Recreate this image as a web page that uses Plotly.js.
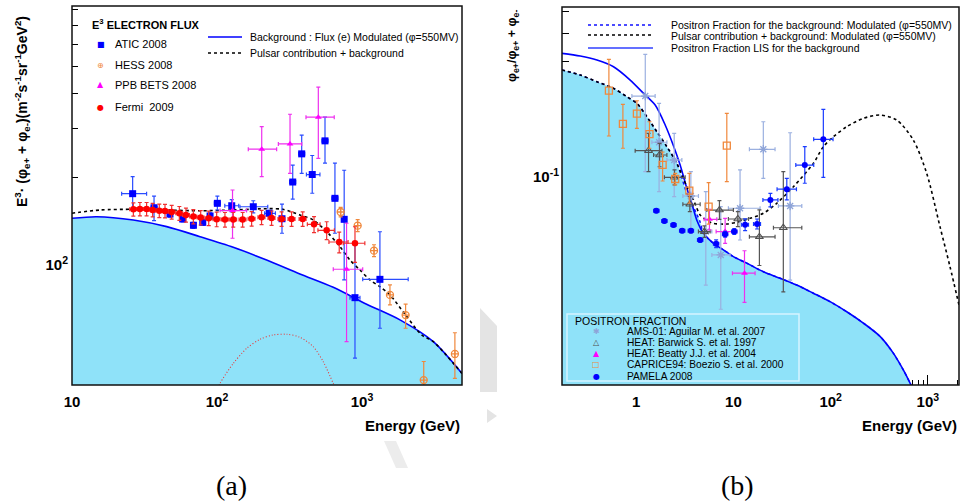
<!DOCTYPE html>
<html>
<head>
<meta charset="utf-8">
<script src="https://cdn.plot.ly/plotly-3.0.1.min.js"></script>
<style>html,body{margin:0;padding:0;background:#fff;}#chart{width:963px;height:502px;}</style>
</head>
<body>
<div id="chart"></div>
<script>
// ---------- Panel (a): E^3 electron flux ----------
const atic_E   = [26.2, 36.8, 47.4, 58.0, 68.8, 79.8, 89.6, 100.6, 126.4, 178, 229, 280.8, 333, 384, 454, 556, 651, 754, 895, 1330];
const atic_F   = [174.6, 155.4, 147.5, 141.6, 134.4, 137.7, 145.2, 161.2, 158, 156.7, 148.4, 141.9, 192.3, 242.8, 204.6, 270.4, 168, 141.2, 73.8, 85.9];
const atic_Elo = [22.0, 35.1, 45.9, 56.2, 66.7, 77.3, 86.8, 95.9, 113.2, 144, 213, 272, 317, 366, 414, 530, 620, 730, 826, 1012];
const atic_Ehi = [32.7, 38.6, 48.9, 59.9, 71.0, 82.4, 92.5, 105.5, 141.2, 224, 253, 289.8, 349, 403, 513, 583, 683, 778, 969, 2084];
const atic_Flo = [152.5, 139.6, 143.9, 138.1, 131.1, 134.3, 141.6, 152.5, 150.3, 149, 144.7, 125.8, 167, 206.4, 175.2, 225, 125.8, 85.5, 44.7, 57.3];
const atic_Fhi = [201, 171.2, 151.2, 145.2, 137.8, 141.2, 148.9, 171, 166.1, 164.7, 152.2, 160.2, 221, 283.5, 239.5, 329, 225, 212, 115.8, 127.4];

const hess_E   = [713, 934, 1211, 1560, 2000, 2667, 4375];
const hess_F   = [150, 134, 108.9, 75.5, 63.9, 37.3, 46.3];
const hess_Flo = [144.2, 127.5, 103.6, 69.5, 57.3, 33.4, 37.8];
const hess_Fhi = [156, 140.9, 114.4, 82, 70, 43.5, 55.2];

const ppb_E   = [128, 203.5, 319, 500, 783];
const ppb_F   = [151.8, 252.5, 263.6, 329, 93.4];
const ppb_Elo = [105, 164.4, 265, 411, 634];
const ppb_Ehi = [160, 258, 384, 644, 1012];
const ppb_Flo = [120.7, 201, 206.6, 234, 51.3];
const ppb_Fhi = [180, 304, 337, 421.6, 136.7];

const fermi_E    = [26.5, 29.4, 32.7, 36.0, 40.0, 43.8, 48.7, 55.0, 61.1, 68.7, 77.2, 87.7, 99.5, 113.5, 129.5, 150.3, 173.4, 203, 238, 279, 327, 390, 467, 571, 697, 895];
const fermi_F    = [153.4, 153.8, 153.8, 152.5, 151.6, 151.3, 150.0, 148.5, 146.4, 144.4, 143.2, 142.5, 141.3, 140.9, 140.9, 140.9, 142.0, 143.6, 142.8, 141.6, 141.6, 141.6, 135.5, 128.9, 117.0, 115.8];
const fermi_Ferr = [8.5, 8.5, 8.5, 8.5, 8.5, 8.5, 8.5, 8.5, 8.5, 8.5, 8.5, 8.5, 8.5, 8.5, 8.5, 8.5, 8.5, 8.5, 8.5, 8.5, 8.5, 8.5, 9, 9.5, 10, 17];
const fermi_Eerr = [1.5, 1.6, 1.8, 2.0, 2.2, 2.4, 2.7, 3.0, 3.4, 3.8, 4.2, 4.8, 5.5, 6.2, 7.1, 8.3, 9.5, 11.2, 13.1, 15.3, 18.0, 21.5, 47, 74, 105, 152];

const bgA_E  = [10, 14.8, 26.5, 45, 76.4, 129.5, 220, 373, 634, 1077, 1828, 3105, 4898];
const bgA_F  = [142.4, 144.3, 140.4, 132.9, 122.3, 112.0, 100.8, 89.8, 80.4, 69.9, 61.4, 51.3, 39.4];
const totA_E = [10, 15.6, 26.5, 45, 76.4, 129.5, 220, 285, 373, 461, 586, 705, 826, 968, 1135, 1330, 1560, 2000, 2582, 3105, 4898];
const totA_F = [148.5, 152.5, 153.4, 152.5, 151.6, 152.5, 154.2, 153.4, 146.4, 140.4, 125.8, 112.6, 100.8, 92.8, 85.5, 80.8, 75.5, 63.9, 54.2, 51.3, 39.4];
const psrA_E = [100, 105, 129.5, 160.3, 198, 244, 303, 373, 461, 541, 634, 690];
const psrA_F = [34, 36.3, 42.8, 48.5, 52.3, 54.2, 54.5, 53.2, 49.2, 43.4, 36.3, 33];

// ---------- Panel (b): positron fraction ----------
const pam_E   = [1.61, 1.95, 2.42, 2.97, 3.65, 4.55, 6.64, 8.22, 10.2, 13.2, 17.5, 24.0, 35.4, 54.2, 84.1];
const pam_V   = [0.0645, 0.0580, 0.0557, 0.0525, 0.0525, 0.0477, 0.0459, 0.0506, 0.0520, 0.0558, 0.0562, 0.0720, 0.0804, 0.1031, 0.1343];
const pam_Elo = [1.51, 1.83, 2.27, 2.79, 3.42, 4.27, 6.23, 7.71, 9.57, 12.15, 16.1, 20.1, 28.1, 43.8, 66.9];
const pam_Ehi = [1.72, 2.08, 2.58, 3.17, 3.89, 4.85, 7.08, 8.76, 10.9, 14.3, 19.0, 28.7, 44.5, 67.0, 105.8];
const pam_Vlo = [0.0632, 0.0568, 0.0546, 0.0514, 0.0514, 0.0467, 0.0441, 0.0491, 0.0505, 0.0525, 0.0534, 0.0671, 0.0720, 0.0855, 0.0909];
const pam_Vhi = [0.0658, 0.0592, 0.0569, 0.0536, 0.0536, 0.0487, 0.0478, 0.0521, 0.0536, 0.0593, 0.0592, 0.0771, 0.0899, 0.1245, 0.1828];

const ams_E   = [1.24, 1.72, 2.46, 3.65, 5.20, 7.41, 11.7, 20.3, 38.3];
const ams_V   = [0.2096, 0.1303, 0.1086, 0.0750, 0.0520, 0.0409, 0.0661, 0.1212, 0.0677];
const ams_Elo = [0.903, 1.45, 2.07, 3.02, 4.37, 6.0, 8.88, 14.6, 29.0];
const ams_Ehi = [1.567, 2.07, 2.95, 4.37, 6.0, 9.25, 18.8, 26.8, 50.5];
const ams_Vlo = [0.0963, 0.0784, 0.0745, 0.0511, 0.0300, 0.0234, 0.0477, 0.0899, 0.0316];
const ams_Vhi = [0.3218, 0.1944, 0.1429, 0.0963, 0.0784, 0.0672, 0.0980, 0.1609, 0.1437];

const heat_E   = [1.34, 1.74, 2.48, 3.56, 5.03, 7.18, 11.1, 18.5, 32.6];
const heat_V   = [0.1195, 0.1143, 0.0909, 0.0689, 0.0520, 0.0649, 0.0592, 0.0493, 0.0541];
const heat_Elo = [0.976, 1.51, 1.95, 3.02, 4.37, 5.33, 8.88, 14.6, 25.8];
const heat_Ehi = [1.84, 2.07, 3.19, 4.55, 5.76, 10.0, 14.3, 26.8, 50.5];
const heat_Vlo = [0.0963, 0.1013, 0.0840, 0.0638, 0.0490, 0.0590, 0.0547, 0.0367, 0.0280];
const heat_Vhi = [0.1429, 0.1289, 0.0980, 0.0745, 0.0552, 0.0715, 0.0638, 0.0650, 0.0963];

const beat_E   = [5.67, 8.22, 13.0];
const beat_V   = [0.0590, 0.0520, 0.0339];
const beat_Elo = [5.0, 6.64, 9.77];
const beat_Ehi = [6.75, 10.8, 16.7];
const beat_Vlo = [0.0529, 0.0461, 0.0251];
const beat_Vhi = [0.0654, 0.0596, 0.0427];

const cap_E   = [0.524, 0.730, 1.017, 1.37, 1.87, 2.52, 3.52, 5.56, 8.55];
const cap_V   = [0.2218, 0.1575, 0.1751, 0.1416, 0.1033, 0.0893, 0.0792, 0.0672, 0.1258];
const cap_Vlo = [0.139, 0.1225, 0.1504, 0.1225, 0.0875, 0.0840, 0.0696, 0.0562, 0.0869];
const cap_Vhi = [0.3058, 0.1925, 0.1997, 0.1609, 0.1179, 0.0947, 0.0947, 0.0860, 0.1754];

const lis_E = [0.1723, 0.2658, 0.3946, 0.5844, 0.8676, 1.189, 1.568, 1.987, 2.40, 2.833, 3.265, 3.72, 4.236, 4.917, 6.232, 7.895, 10.0, 13.73, 20.34, 30.2, 44.8, 66.4, 98.6, 146.4, 216.8, 321.9, 441, 558.8, 670.3, 791];
const lis_V = [0.3251, 0.3162, 0.3034, 0.2833, 0.2471, 0.2156, 0.1910, 0.1556, 0.1267, 0.1031, 0.0831, 0.0698, 0.0580, 0.0511, 0.0461, 0.0431, 0.0402, 0.0376, 0.0344, 0.0322, 0.0300, 0.0276, 0.0253, 0.0228, 0.0203, 0.0177, 0.0149, 0.01254, 0.01074, 0.0092];
const mod_E = [0.1723, 0.2658, 0.3946, 0.5844, 0.8024, 1.017, 1.288, 1.632, 2.068, 2.62, 3.32, 3.88, 4.548, 4.917, 6.232, 7.895, 10.0, 13.73, 20.34, 30.2, 44.8, 66.4, 98.6, 146.4, 216.8, 321.9, 441, 558.8, 670.3, 791];
const mod_V = [0.2739, 0.2602, 0.2428, 0.2269, 0.2080, 0.1944, 0.1694, 0.1452, 0.1245, 0.1049, 0.0771, 0.0669, 0.0574, 0.0511, 0.0461, 0.0431, 0.0402, 0.0376, 0.0344, 0.0322, 0.0300, 0.0276, 0.0253, 0.0228, 0.0203, 0.0177, 0.0149, 0.01254, 0.01074, 0.0092];
const tot_E = [0.1723, 0.2658, 0.3946, 0.5844, 0.8024, 1.017, 1.288, 1.632, 2.068, 2.62, 3.32, 3.88, 4.548, 5.33, 6.232, 8.555, 11.72, 14.85, 20.34, 27.93, 41.4, 66.4, 84.1, 106.6, 146.4, 216.8, 321.9, 477.9, 707.9, 972, 1332, 1687, 2087];
const tot_V = [0.2739, 0.2602, 0.2428, 0.2269, 0.2080, 0.1944, 0.1694, 0.1452, 0.1245, 0.1049, 0.0825, 0.0720, 0.0617, 0.0583, 0.0566, 0.0562, 0.0577, 0.0596, 0.0628, 0.0696, 0.0825, 0.1049, 0.1245, 0.1379, 0.1529, 0.1667, 0.1724, 0.1638, 0.1334, 0.0947, 0.0547, 0.0363, 0.0245];

// ---------- tick labels ----------
const ticksA_x = [10, 100, 1000];
const ticksA_xt = ['<b>10</b>', '<b>10<sup>2</sup></b>', '<b>10<sup>3</sup></b>'];
const ticksA_y = [100];
const ticksA_yt = ['<b>10<sup>2</sup></b>'];
const ticksB_x = [1, 10, 100, 1000];
const ticksB_xt = ['<b>1</b>', '<b>10</b>', '<b>10<sup>2</sup></b>', '<b>10<sup>3</sup></b>'];
const ticksB_y = [0.1];
const ticksB_yt = ['<b>10<sup>-1</sup></b>'];

// ---------- helpers ----------
const FILL = 'rgb(143,226,249)';
const FONT = 'Liberation Sans, Arial, Helvetica, sans-serif';
function asym(v, lo, hi, color) {
  return {type: 'data', symmetric: false,
          array: v.map((d, i) => hi[i] - d), arrayminus: v.map((d, i) => d - lo[i]),
          color: color, thickness: 1.2, width: 2};
}
function pts(x, y, xa, ya, marker, ex, ey) {
  const t = {x: x, y: y, xaxis: xa, yaxis: ya, mode: 'markers', type: 'scatter', marker: marker, hoverinfo: 'skip'};
  if (ex) t.error_x = ex;
  if (ey) t.error_y = ey;
  return t;
}
function line(x, y, xa, ya, color, dash, width, fill) {
  const t = {x: x, y: y, xaxis: xa, yaxis: ya, mode: 'lines', type: 'scatter',
             line: {color: color, dash: dash, width: width, shape: 'spline', smoothing: 0.8}, hoverinfo: 'skip'};
  if (fill) { t.fill = 'tozeroy'; t.fillcolor = fill; }
  return t;
}

const traces = [
  line(bgA_E, bgA_F, 'x', 'y', '#0000ff', 'solid', 1.6, FILL),
  line(psrA_E, psrA_F, 'x', 'y', '#e83a3a', '1px,2px', 1.1),
  line(totA_E, totA_F, 'x', 'y', '#000000', 'dot', 1.6),
  pts(atic_E, atic_F, 'x', 'y', {symbol: 'square', size: 7, color: '#0000ff'},
      asym(atic_E, atic_Elo, atic_Ehi, '#2a4cff'), asym(atic_F, atic_Flo, atic_Fhi, '#2a4cff')),
  pts(hess_E, hess_F, 'x', 'y', {symbol: 'circle-cross-open', size: 7, color: '#f0883c', line: {width: 1.3}},
      null, asym(hess_F, hess_Flo, hess_Fhi, '#f0883c')),
  pts(ppb_E, ppb_F, 'x', 'y', {symbol: 'triangle-up', size: 6, color: '#ff00ff'},
      asym(ppb_E, ppb_Elo, ppb_Ehi, '#ee30ee'), asym(ppb_F, ppb_Flo, ppb_Fhi, '#ee30ee')),
  pts(fermi_E, fermi_F, 'x', 'y', {symbol: 'circle', size: 6.5, color: '#ff0000'},
      {type: 'data', array: fermi_Eerr, color: '#f03030', thickness: 1.2, width: 2},
      {type: 'data', array: fermi_Ferr, color: '#f03030', thickness: 1.2, width: 2}),

  line(mod_E, mod_V, 'x2', 'y2', '#1010ff', 'dot', 1.5, FILL),
  line(lis_E, lis_V, 'x2', 'y2', '#0000ff', 'solid', 1.6),
  line(tot_E, tot_V, 'x2', 'y2', '#000000', 'dot', 1.6),
  pts(ams_E, ams_V, 'x2', 'y2', {symbol: 'asterisk-open', size: 7, color: '#8ea4d8', line: {width: 1.3}},
      asym(ams_E, ams_Elo, ams_Ehi, '#9bb0e0'), asym(ams_V, ams_Vlo, ams_Vhi, '#9bb0e0')),
  pts(heat_E, heat_V, 'x2', 'y2', {symbol: 'triangle-up-open', size: 7, color: '#505050', line: {width: 1.1}},
      asym(heat_E, heat_Elo, heat_Ehi, '#555555'), asym(heat_V, heat_Vlo, heat_Vhi, '#555555')),
  pts(beat_E, beat_V, 'x2', 'y2', {symbol: 'triangle-up', size: 6, color: '#ff00ff'},
      asym(beat_E, beat_Elo, beat_Ehi, '#ee30ee'), asym(beat_V, beat_Vlo, beat_Vhi, '#ee30ee')),
  pts(cap_E, cap_V, 'x2', 'y2', {symbol: 'square-open', size: 7, color: '#f0883c', line: {width: 1.3}},
      null, asym(cap_V, cap_Vlo, cap_Vhi, '#f0883c')),
  pts(pam_E, pam_V, 'x2', 'y2', {symbol: 'circle', size: 6, color: '#0000ff'},
      asym(pam_E, pam_Elo, pam_Ehi, '#1a3cff'), asym(pam_V, pam_Vlo, pam_Vhi, '#1a3cff'))
];

// pixel helpers for layout placement
const W = 963, H = 502;
const px = v => v / W, py = v => 1 - v / H;

function axisBase(extra) {
  return Object.assign({
    type: 'log', ticks: 'inside', ticklen: 10, tickwidth: 1, tickcolor: '#000',
    showgrid: false, zeroline: false, showline: false, layer: 'below traces',
    tickmode: 'array', automargin: false, fixedrange: true,
    tickfont: {family: FONT, size: 15, color: '#000'}
  }, extra);
}

const layout = {
  width: W, height: H, margin: {l: 0, r: 0, t: 0, b: 0},
  paper_bgcolor: '#fff', plot_bgcolor: '#fff', showlegend: false, hovermode: false,
  xaxis: axisBase({domain: [px(72), px(462)], range: [1, 3.69], anchor: 'y',
    tickvals: ticksA_x, ticktext: ticksA_xt, ticklabelstandoff: 6,
    minor: {tickvals: [20,30,40,50,60,70,80,90,200,300,400,500,600,700,800,900,2000,3000,4000], ticks: 'inside', ticklen: 5, tickcolor: '#000'}}),
  yaxis: axisBase({domain: [py(385), py(6)], range: [1.554, 2.917], anchor: 'x',
    tickvals: ticksA_y, ticktext: ticksA_yt, ticklabelstandoff: 3, ticklabelshift: 4,
    minor: {tickvals: [40,50,60,70,80,90,200,300,400,500,600,700,800], ticks: 'inside', ticklen: 6, tickcolor: '#000'}}),
  xaxis2: axisBase({domain: [px(562), px(959)], range: [-0.763, 3.32], anchor: 'y2',
    tickvals: ticksB_x, ticktext: ticksB_xt, ticklabelstandoff: 6,
    minor: {tickvals: [0.2,0.3,0.4,0.5,0.6,0.7,0.8,0.9,2,3,4,5,6,7,8,9,20,30,40,50,60,70,80,90,200,300,400,500,600,700,800,900,2000], ticks: 'inside', ticklen: 5, tickcolor: '#000'}}),
  yaxis2: axisBase({domain: [py(385), py(7)], range: [-1.969, -0.281], anchor: 'x2',
    tickvals: ticksB_y, ticktext: ticksB_yt, ticklabelstandoff: 2, ticklabelshift: 9,
    minor: {tickvals: [0.02,0.03,0.04,0.05,0.06,0.07,0.08,0.09,0.2,0.3,0.4,0.5], ticks: 'inside', ticklen: 7, tickcolor: '#000'}}),
  shapes: [],
  annotations: []
};

const S = layout.shapes, A = layout.annotations;
// faint watermark fragments
S.push({type: 'path', xref: 'paper', yref: 'paper', layer: 'below', line: {width: 0}, fillcolor: '#e4e4e4',
  path: 'M ' + px(480) + ',' + py(308) + ' L ' + px(497) + ',' + py(326) + ' L ' + px(497) + ',' + py(392) + ' L ' + px(480) + ',' + py(392) + ' Z'});
S.push({type: 'path', xref: 'paper', yref: 'paper', layer: 'below', line: {width: 0}, fillcolor: '#e4e4e4',
  path: 'M ' + px(487) + ',' + py(409) + ' L ' + px(497) + ',' + py(416) + ' L ' + px(487) + ',' + py(423) + ' Z'});
S.push({type: 'path', xref: 'paper', yref: 'paper', layer: 'below', line: {width: 0}, fillcolor: '#ececec',
  path: 'M ' + px(384) + ',' + py(441) + ' L ' + px(396) + ',' + py(441) + ' L ' + px(408) + ',' + py(468) + ' L ' + px(396) + ',' + py(468) + ' Z'});
// frames
S.push({type: 'rect', xref: 'x domain', yref: 'y domain', x0: 0, x1: 1, y0: 0, y1: 1, line: {color: '#111', width: 1.5}, layer: 'above'});
S.push({type: 'rect', xref: 'x2 domain', yref: 'y2 domain', x0: 0, x1: 1, y0: 0, y1: 1, line: {color: '#111', width: 1.5}, layer: 'above'});

function txt(x, y, text, opt) {
  A.push(Object.assign({xref: 'paper', yref: 'paper', x: px(x), y: py(y), text: text, showarrow: false,
    xanchor: 'left', yanchor: 'middle', font: {family: FONT, size: 11, color: '#000'}}, opt || {}));
}
function seg(x0, x1, y, color, dash) {
  S.push({type: 'line', xref: 'paper', yref: 'paper', x0: px(x0), x1: px(x1), y0: py(y), y1: py(y),
    line: {color: color, width: 1.6, dash: dash}, layer: 'above'});
}

// axis titles
txt(22, 112, '<b>E<sup>3</sup>· (φ<sub>e+</sub> + φ<sub>e-</sub>)(m<sup>-2</sup>s<sup>-1</sup>sr<sup>-1</sup>GeV<sup>2</sup>)</b>',
    {xanchor: 'center', textangle: -90, font: {family: FONT, size: 14, color: '#000'}});
txt(513, 46, '<b>φ<sub>e+</sub>/φ<sub>e+</sub> + φ<sub>e-</sub></b>',
    {xanchor: 'center', textangle: -90, font: {family: FONT, size: 12.5, color: '#000'}});
txt(462, 425, '<b>Energy (GeV)</b>', {xanchor: 'right', font: {family: FONT, size: 15, color: '#000'}});
txt(959, 425, '<b>Energy (GeV)</b>', {xanchor: 'right', font: {family: FONT, size: 15, color: '#000'}});
txt(231, 485, '(a)', {xanchor: 'center', font: {family: 'Liberation Serif, DejaVu Serif, serif', size: 28, color: '#000'}});
txt(737, 485, '(b)', {xanchor: 'center', font: {family: 'Liberation Serif, DejaVu Serif, serif', size: 28, color: '#000'}});

// legend (a) markers
txt(90, 24, '<b>E<sup>3</sup> ELECTRON FLUX</b>', {font: {family: FONT, size: 11, color: '#000'}});
const legA = [['■', '#0000ff', 'ATIC 2008', 44], ['⊕', '#f0883c', 'HESS 2008', 65], ['▲', '#ff00ff', 'PPB BETS 2008', 85], ['●', '#ff0000', 'Fermi  2009', 107]];
legA.forEach(r => {
  txt(100.7, r[3], r[0], {xanchor: 'center', font: {family: 'DejaVu Sans', size: 8, color: r[1]}});
  txt(113, r[3], r[2], {font: {family: FONT, size: 11, color: '#000'}});
});
// legend (a) lines
seg(208, 242, 37, '#0000ff', 'solid');
seg(208, 242, 53, '#000000', 'dot');
txt(248, 37, 'Background : Flux (e) Modulated (φ=550MV)', {font: {family: FONT, size: 10.5, color: '#000'}});
txt(248, 53, 'Pulsar contribution + background', {font: {family: FONT, size: 10.5, color: '#000'}});

// legend (b) lines
seg(588, 653, 25, '#1010ff', 'dot');
seg(588, 653, 35, '#000000', 'dot');
seg(588, 653, 48, '#3040ff', 'solid');
txt(669, 25, 'Positron Fraction for the background: Modulated (φ=550MV)', {font: {family: FONT, size: 10.5, color: '#000'}});
txt(669, 36, 'Pulsar contribution + background: Modulated (φ=550MV)', {font: {family: FONT, size: 10.5, color: '#000'}});
txt(669, 48, 'Positron Fraction LIS for the background', {font: {family: FONT, size: 10.5, color: '#000'}});

// legend (b) markers box
S.push({type: 'rect', xref: 'paper', yref: 'paper', x0: px(567), x1: px(799), y0: py(381), y1: py(314),
  fillcolor: FILL, line: {color: '#d6f4ff', width: 1.5}, layer: 'above'});
txt(573, 321, 'POSITRON FRACTION', {font: {family: FONT, size: 10.5, color: '#000'}});
const legB = [['✱', '#8ea4d8', 'AMS-01: Aguilar M. et al. 2007', 331], ['△', '#505050', 'HEAT: Barwick S. et al. 1997', 342.5],
  ['▲', '#ff00ff', 'HEAT: Beatty J.J. et al. 2004', 353], ['□', '#f0883c', 'CAPRICE94: Boezio S. et al. 2000', 364.5], ['●', '#0000ff', 'PAMELA 2008', 376]];
legB.forEach(r => {
  txt(596, r[3], r[0], {xanchor: 'center', font: {family: 'DejaVu Sans', size: 8, color: r[1]}});
  txt(625, r[3], r[2], {font: {family: FONT, size: 10.2, color: '#000'}});
});

Plotly.newPlot('chart', traces, layout, {displayModeBar: false, staticPlot: true});
</script>
</body>
</html>
